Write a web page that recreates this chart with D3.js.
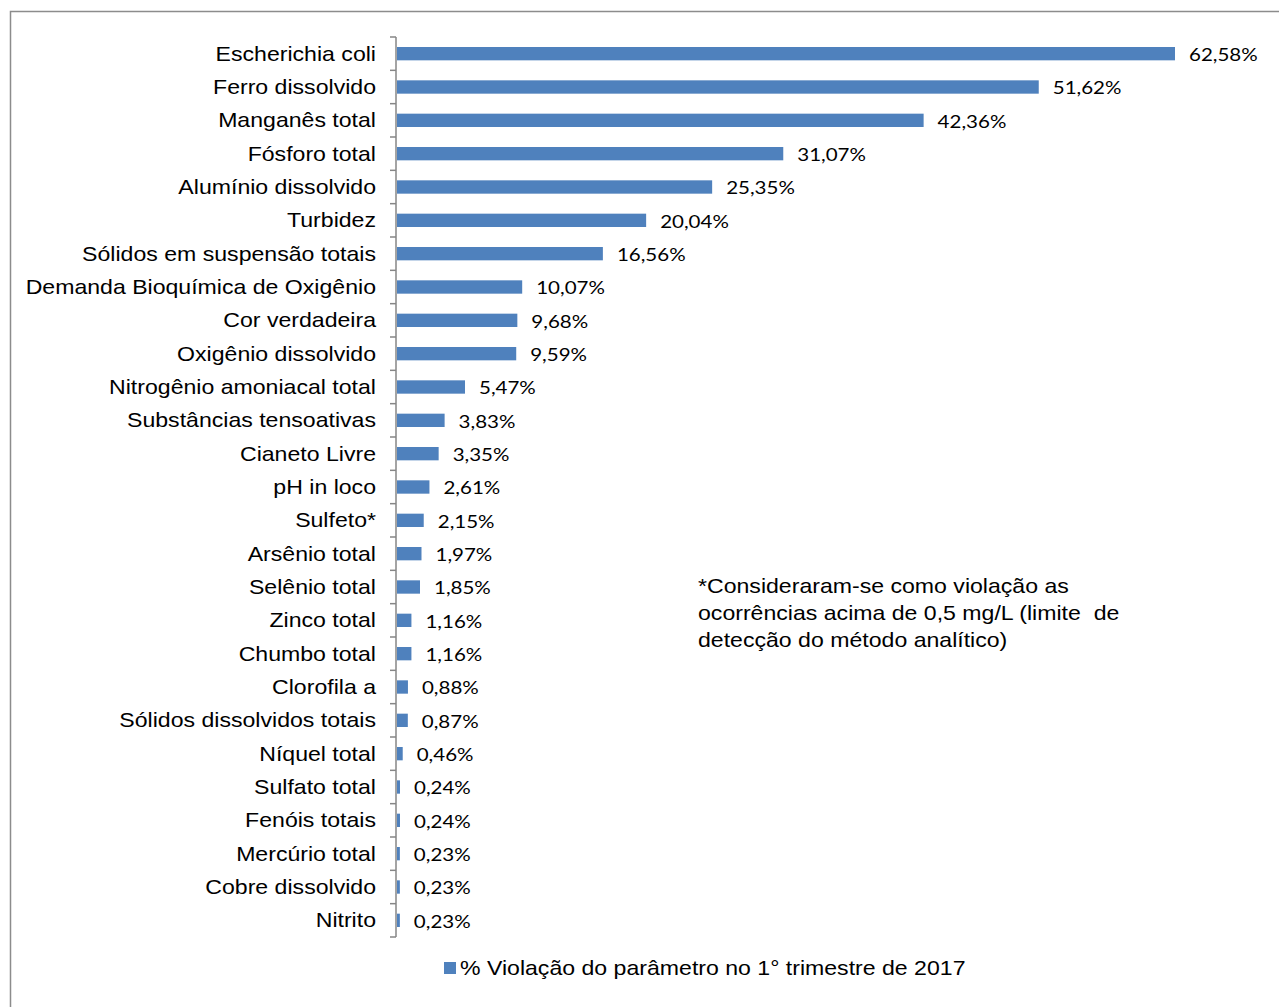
<!DOCTYPE html>
<html>
<head>
<meta charset="utf-8">
<script src="https://cdn.jsdelivr.net/npm/d3@7"></script>
<style>
  html, body { margin: 0; padding: 0; background: #fff; }
  svg { display: block; }
</style>
</head>
<body>
<svg id="chart" width="1279" height="1007"></svg>
<script>
// Parameters and their share of violations (%)
const categories = [
  "Escherichia coli", "Ferro dissolvido", "Manganês total", "Fósforo total",
  "Alumínio dissolvido", "Turbidez", "Sólidos em suspensão totais",
  "Demanda Bioquímica de Oxigênio", "Cor verdadeira", "Oxigênio dissolvido",
  "Nitrogênio amoniacal total", "Substâncias tensoativas", "Cianeto Livre",
  "pH in loco", "Sulfeto*", "Arsênio total", "Selênio total", "Zinco total",
  "Chumbo total", "Clorofila a", "Sólidos dissolvidos totais", "Níquel total",
  "Sulfato total", "Fenóis totais", "Mercúrio total", "Cobre dissolvido", "Nitrito"
];
const values = [
  62.58, 51.62, 42.36, 31.07, 25.35, 20.04, 16.56, 10.07, 9.68, 9.59,
  5.47, 3.83, 3.35, 2.61, 2.15, 1.97, 1.85, 1.16, 1.16, 0.88, 0.87,
  0.46, 0.24, 0.24, 0.23, 0.23, 0.23
];
const seriesName = "% Violação do parâmetro no 1° trimestre de 2017";
const noteLines = [
  "*Consideraram-se como violação as",
  "ocorrências acima de 0,5 mg/L (limite  de",
  "detecção do método analítico)"
];

const data = categories.map((c, i) => ({ name: c, value: values[i] }));
const fmt = v => v.toFixed(2).replace(".", ",") + "%";

const svg = d3.select("#chart");
const barColor = "#4F81BD";
const sansFont = "'Liberation Sans', Arial, sans-serif";
const labelFont = "Lato, 'Open Sans', sans-serif";
const sx = 1.155;   // horizontal glyph stretch used by all chart text
const place = (px, py, k) => `translate(${px},${py}) scale(${k},1)`;

// Outer chart frame
svg.append("rect")
  .attr("x", 10.5).attr("y", 11.5)
  .attr("width", 1280).attr("height", 1010)
  .attr("fill", "none").attr("stroke", "#8c8c8c").attr("stroke-width", 1.5);

const x0 = 397, y0 = 37, y1 = 937;
const x = d3.scaleLinear().domain([0, 62.58]).range([x0, 1175]);
const y = d3.scaleBand().domain(categories).range([y0, y1]).paddingInner(0.6).paddingOuter(0.3);
const yBand = d3.scaleBand().domain(categories).range([y0, y1]);
const mid = name => yBand(name) + yBand.bandwidth() / 2;

// Bars
svg.append("g").selectAll("rect").data(data).join("rect")
  .attr("x", x(0))
  .attr("y", d => y(d.name))
  .attr("width", d => x(d.value) - x(0))
  .attr("height", y.bandwidth())
  .attr("fill", barColor);

// Category axis with ticks on band boundaries
const axisG = svg.append("g");
axisG.append("line")
  .attr("x1", 396).attr("x2", 396).attr("y1", y0).attr("y2", y1)
  .attr("stroke", "#868686").attr("stroke-width", 1.5);
const bounds = categories.map(c => yBand(c)).concat([y1]);
axisG.selectAll("line.tick").data(bounds).join("line")
  .attr("class", "tick")
  .attr("x1", 390).attr("x2", 396)
  .attr("y1", d => d).attr("y2", d => d)
  .attr("stroke", "#868686").attr("stroke-width", 1.5);

// Category labels
svg.append("g").selectAll("text").data(data).join("text")
  .attr("transform", d => place(376, mid(d.name), sx))
  .attr("dy", "0.35em")
  .attr("text-anchor", "end")
  .attr("font-family", sansFont)
  .attr("font-size", 20)
  .attr("fill", "#000")
  .text(d => d.name);

// Value labels
svg.append("g").selectAll("text").data(data).join("text")
  .attr("transform", d => place(x(d.value) + 14, mid(d.name) + 1, 1.14))
  .attr("dy", "0.35em")
  .attr("font-family", labelFont)
  .attr("font-size", 18)
  .attr("fill", "#000")
  .text(d => fmt(d.value));

// Footnote
svg.append("g").selectAll("text").data(noteLines).join("text")
  .attr("transform", (d, i) => place(698, 586 + i * 27, sx))
  .attr("dy", "0.35em")
  .attr("font-family", sansFont)
  .attr("font-size", 20)
  .attr("fill", "#000")
  .style("white-space", "pre")
  .attr("xml:space", "preserve")
  .text(d => d);

// Legend
const lg = svg.append("g");
lg.append("rect")
  .attr("x", 444).attr("y", 962).attr("width", 12).attr("height", 12)
  .attr("fill", barColor);
lg.append("text")
  .attr("transform", place(460, 968, sx))
  .attr("dy", "0.35em")
  .attr("font-family", sansFont)
  .attr("font-size", 20)
  .attr("fill", "#000")
  .text(seriesName);
</script>
</body>
</html>
